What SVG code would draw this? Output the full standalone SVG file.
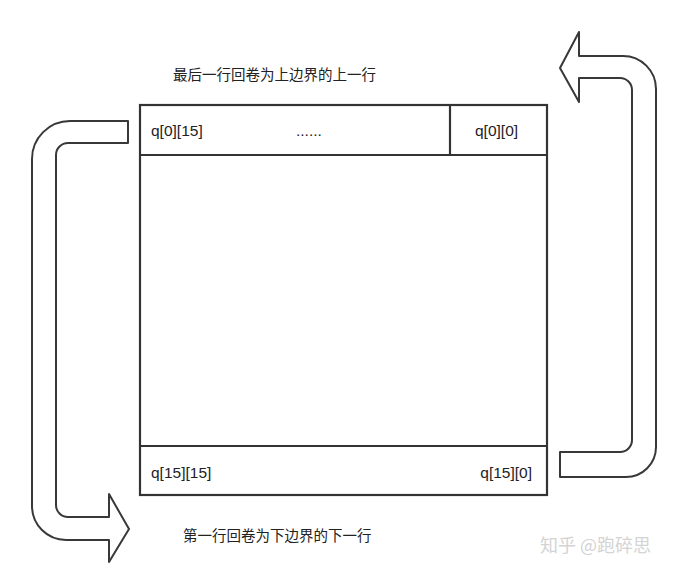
<svg xmlns="http://www.w3.org/2000/svg" width="687" height="574" viewBox="0 0 687 574">
<style>
.box{fill:none;stroke:#333;stroke-width:2.2}
.arrow{fill:#fff;stroke:#383838;stroke-width:2;stroke-linejoin:round}
.lbl{font-family:"Liberation Sans","Noto Sans CJK SC",sans-serif;font-size:15.5px;fill:#222}
.cn{font-family:"Noto Sans CJK SC",sans-serif;font-size:14.5px;fill:#222}
.wm{font-family:"Noto Sans CJK SC",sans-serif;font-size:18px;fill:#d4d4d4}
</style>
<rect width="687" height="574" fill="#fff"/>
<g id="connectors">
<path id="arrow-left" class="arrow" d="M128,121 L70,121 A38,38 0 0 0 32,159 L32,506 A34,34 0 0 0 66,540 L109,540 L109,562 L129,529 L109,494 L109,517 L68,517 A12,12 0 0 1 56,505 L56,155 A12,12 0 0 1 68,143 L128,143 Z"/>
<path id="arrow-right" class="arrow" d="M560,452 L620,452 A12,12 0 0 0 632,440 L632,90 A12,12 0 0 0 620,78 L579,78 L579,102 L560,68 L579,32 L579,56 L623,56 A33,33 0 0 1 656,89 L656,447 A30,30 0 0 1 626,477 L560,477 Z"/>
</g>
<g id="grid">
<rect class="box" x="140" y="105" width="407" height="390"/>
<line class="box" x1="140" y1="155" x2="547" y2="155"/>
<line class="box" x1="450" y1="105" x2="450" y2="155"/>
<line class="box" x1="140" y1="446" x2="547" y2="446"/>
</g>
<g id="top-row">
<text class="lbl" x="151" y="136">q[0][15]</text>
<text class="lbl" x="296" y="136">......</text>
<text class="lbl" x="475" y="136">q[0][0]</text>
</g>
<g id="bottom-row">
<text class="lbl" x="151" y="478">q[15][15]</text>
<text class="lbl" x="532" y="478" text-anchor="end">q[15][0]</text>
</g>
<g id="captions">
<text class="cn" x="173" y="80">最后一行回卷为上边界的上一行</text>
<text class="cn" x="183" y="541">第一行回卷为下边界的下一行</text>
</g>
<text class="wm" x="540" y="552">知乎 @跑碎思</text>
</svg>
